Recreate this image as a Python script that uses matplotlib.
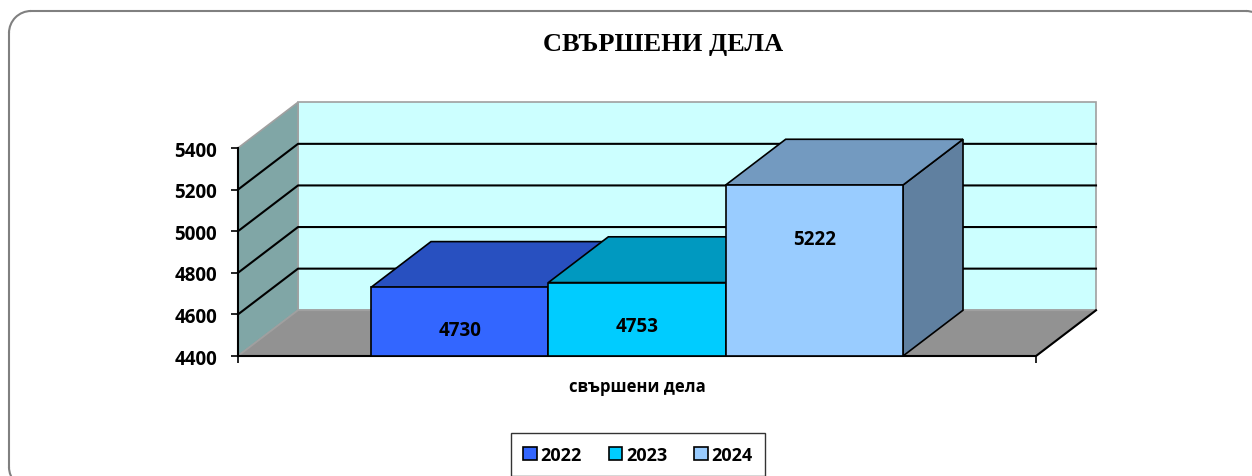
import matplotlib
matplotlib.use("Agg")
import matplotlib.pyplot as plt
from matplotlib.patches import Rectangle, Polygon, Arc

# --- Datos ---
category = "свършени дела"
years = ["2022", "2023", "2024"]
values = [4730, 4753, 5222]
y_ticks = [4400, 4600, 4800, 5000, 5200, 5400]

front_colors = ["#3366FF", "#00CCFF", "#99CCFF"]
top_colors = ["#2850C0", "#0099C0", "#739AC0"]
side_colors = ["#1E3C90", "#007390", "#6080A0"]

ymin, ymax = 4400, 5400
xmin, xmax = -0.5, 0.5
dx, dy = 0.0752, 220      # profundidad 3D falsa (unidades de datos)
gap = 0.75                # ancho de separacion estilo Excel

FONT = "Open Sans"

fig = plt.figure(figsize=(12.52, 4.77), dpi=100)

# --- borde redondeado (ejes de fondo en pixeles, y hacia abajo) ---
bg = fig.add_axes([0, 0, 1, 1])
bg.set_xlim(0, 1252)
bg.set_ylim(477, 0)
bg.axis("off")
L, T, R, B, r = 9, 12, 1268, 490, 22
bc = dict(color="#808080", lw=1.5, clip_on=False)
bg.plot([L + r, R - r], [T, T], **bc)
bg.plot([L, L], [T + r, B - r], **bc)
bg.add_patch(Arc((L + r, T + r), 2 * r, 2 * r, theta1=180, theta2=270, edgecolor="#808080", lw=1.5))
bg.add_patch(Arc((R - r, T + r), 2 * r, 2 * r, theta1=270, theta2=360, edgecolor="#808080", lw=1.5))
bg.add_patch(Arc((L + r, B - r), 2 * r, 2 * r, theta1=90, theta2=180, edgecolor="#808080", lw=1.5))

ax = fig.add_axes([238 / 1252, 1 - 357 / 477, 798 / 1252, 208 / 477])
ax.set_xlim(xmin, xmax)
ax.set_ylim(ymin, ymax)
for s in ax.spines.values():
    s.set_visible(False)
ax.patch.set_visible(False)

# --- paredes ---
back = Rectangle((xmin + dx, ymin + dy), xmax - xmin, ymax - ymin,
                 facecolor="#CCFFFF", edgecolor="#A0A0A0", lw=1.2, clip_on=False, zorder=0)
ax.add_patch(back)
side = Polygon([(xmin, ymin), (xmin + dx, ymin + dy), (xmin + dx, ymax + dy), (xmin, ymax)],
               closed=True, facecolor="#80A6A6", edgecolor="#A0A0A0", lw=1.2,
               clip_on=False, zorder=0)
ax.add_patch(side)
floor = Polygon([(xmin, ymin), (xmax, ymin), (xmax + dx, ymin + dy), (xmin + dx, ymin + dy)],
                closed=True, facecolor="#929292", edgecolor="#A0A0A0", lw=1.2,
                clip_on=False, zorder=0)
ax.add_patch(floor)

for t in y_ticks[1:-1]:
    ax.plot([xmin, xmin + dx, xmax + dx], [t, t + dy, t + dy], color="black",
            lw=1.5, clip_on=False, zorder=1)

# lineas de ejes
ax.plot([xmin, xmin], [ymin, ymax], color="black", lw=1.5, clip_on=False, zorder=1)
ax.plot([xmin, xmax, xmax + dx], [ymin, ymin, ymin + dy], color="black", lw=1.5,
        clip_on=False, zorder=1)

# --- barras 3D ---
n = len(values)
w = (xmax - xmin) / (n + 2 * gap)
px_per_unit = 208 / (ymax - ymin)
for i, v in enumerate(values):
    x0 = xmin + gap * w + i * w
    z = 2 + i
    sidef = Polygon([(x0 + w, ymin), (x0 + w + dx, ymin + dy), (x0 + w + dx, v + dy), (x0 + w, v)],
                    closed=True, facecolor=side_colors[i], edgecolor="black", lw=1.2,
                    clip_on=False, zorder=z)
    topf = Polygon([(x0, v), (x0 + w, v), (x0 + w + dx, v + dy), (x0 + dx, v + dy)],
                   closed=True, facecolor=top_colors[i], edgecolor="black", lw=1.2,
                   clip_on=False, zorder=z)
    front = Rectangle((x0, ymin), w, v - ymin, facecolor=front_colors[i],
                      edgecolor="black", lw=1.2, clip_on=False, zorder=z, label=years[i])
    ax.add_patch(sidef)
    ax.add_patch(topf)
    ax.add_patch(front)
    off = 35 + 0.11 * (v - ymin) * px_per_unit
    ax.annotate(str(v), (x0 + w / 2, v), xytext=(0, -off), textcoords="offset pixels",
                ha="center", va="center", fontsize=13.5, fontweight="bold",
                family=FONT, zorder=10)

# --- ejes ---
ax.set_yticks(y_ticks)
ax.set_yticklabels([str(t) for t in y_ticks], fontsize=13.5, fontweight="bold", family=FONT)
ax.tick_params(axis="y", length=5, width=1.2, pad=10)
ax.set_xticks([xmin, xmax])
ax.set_xticklabels(["", ""])
ax.tick_params(axis="x", length=5, width=1.2)
ax.set_xticks([0.0], minor=True)
ax.set_xticklabels([category], minor=True, fontsize=12, fontweight="bold", family=FONT)
ax.tick_params(axis="x", which="minor", length=0, pad=15)

fig.text(663 / 1252, 1 - 44 / 477, "СВЪРШЕНИ ДЕЛА", ha="center", va="center",
         fontsize=19, fontweight="bold", family="Liberation Serif")

leg = fig.legend(loc="upper center", bbox_to_anchor=(638 / 1252, 1 - 434 / 477),
                 ncol=3, frameon=True, fancybox=False, edgecolor="black",
                 prop={"family": FONT, "weight": "bold", "size": 13},
                 handlelength=0.75, handleheight=0.75, handletextpad=0.2,
                 columnspacing=1.5, borderpad=0.7, borderaxespad=0)
leg.get_frame().set_linewidth(1.0)

fig.savefig("out.png", dpi=100)
